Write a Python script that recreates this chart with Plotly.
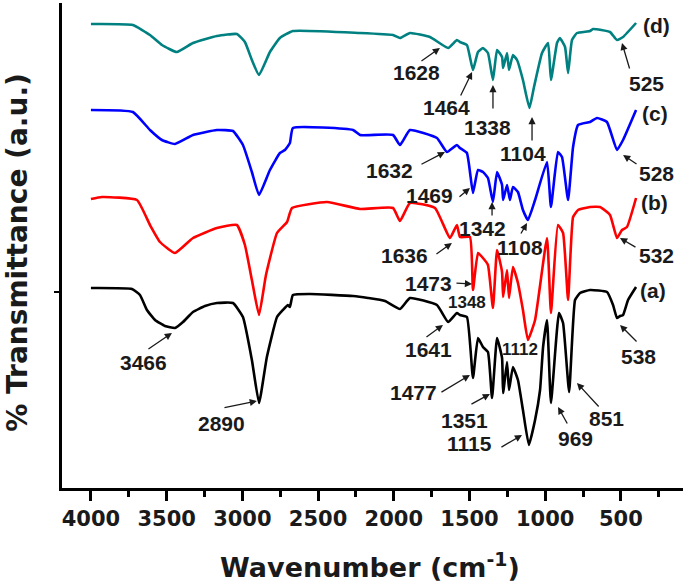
import plotly.graph_objects as go

# ---------------- data (wavenumber in cm-1, transmittance in a.u. with offsets) -------------
wn_a = [4000, 3729, 3676, 3630, 3577, 3511, 3445, 3392, 3326, 3247, 3168, 3062, 2996, 2937, 2890,
        2838, 2771, 2732, 2699, 2686, 2666, 2553, 2269, 2170, 2058, 1959, 1893, 1715, 1641, 1583,
        1563, 1517, 1477, 1444, 1411, 1378, 1351, 1318, 1285, 1278, 1252, 1239, 1213, 1180, 1147,
        1108, 1067, 1034, 1014, 988, 962, 909, 882, 842, 803, 770, 704, 592, 552, 526, 506, 486,
        453, 400]
t_a = [200, 199, 193, 178, 168, 162, 160, 166, 176, 182, 185, 185, 171, 128, 85,
       131, 171, 178, 183, 181, 193, 194, 192, 190, 187, 179, 190, 183, 166, 175,
       173, 171, 110, 150, 141, 136, 90, 150, 130, 95, 126, 98, 121, 108, 78,
       43, 68, 98, 141, 168, 85, 175, 165, 96, 188, 195, 198, 196, 183, 170, 172, 173,
       188, 201]

wn_b = [4000, 3927, 3696, 3610, 3544, 3445, 3326, 3168, 3036, 2983, 2937, 2890, 2844, 2771, 2705,
        2672, 2441, 2223, 2005, 1959, 1893, 1728, 1629, 1583, 1563, 1497, 1477, 1444, 1411, 1378,
        1345, 1318, 1285, 1278, 1252, 1239, 1213, 1180, 1147, 1114, 1067, 988, 962, 916, 882,
        849, 816, 783, 704, 638, 572, 526, 493, 460, 400]
t_b = [289, 291, 288, 263, 246, 235, 250, 260, 263, 243, 208, 173, 213, 255, 266,
       280, 286, 279, 280, 267, 285, 280, 250, 263, 251, 251, 198, 235, 230, 223,
       180, 238, 216, 191, 218, 190, 221, 205, 178, 148, 168, 250, 175, 263, 255,
       188, 271, 278, 281, 281, 273, 250, 258, 261, 290]

wn_c = [4000, 3723, 3610, 3531, 3445, 3326, 3168, 3062, 2996, 2937, 2890, 2818, 2752, 2719, 2686,
        2666, 2269, 2223, 2005, 1959, 1893, 1715, 1649, 1583, 1563, 1517, 1477, 1444, 1411, 1378,
        1345, 1318, 1285, 1278, 1252, 1233, 1213, 1180, 1147, 1114, 1067, 988, 962, 916, 889,
        849, 816, 783, 704, 658, 592, 526, 486, 400]
t_c = [378, 376, 358, 348, 344, 353, 358, 357, 343, 316, 293, 318, 335, 338, 345,
       360, 358, 353, 353, 343, 358, 350, 336, 343, 340, 335, 295, 318, 316, 310,
       286, 316, 303, 288, 303, 288, 301, 296, 278, 268, 288, 326, 281, 336, 331,
       288, 341, 363, 366, 370, 366, 338, 348, 378]

wn_d = [4000, 3723, 3610, 3531, 3432, 3326, 3168, 3036, 2983, 2937, 2890, 2818, 2752, 2666, 2223,
        2005, 1959, 1893, 1761, 1641, 1583, 1563, 1517, 1477, 1444, 1411, 1378, 1345, 1318, 1285,
        1278, 1252, 1239, 1213, 1186, 1147, 1104, 1074, 1021, 981, 962, 922, 903, 869, 849,
        823, 790, 704, 684, 572, 526, 486, 400]
t_d = [464, 463, 453, 443, 436, 445, 452, 454, 446, 428, 413, 436, 450, 457, 455,
       453, 450, 455, 451, 440, 448, 446, 443, 418, 436, 440, 435, 408, 438, 431,
       420, 435, 418, 433, 428, 408, 380, 401, 435, 445, 408, 445, 450, 441, 415,
       448, 455, 457, 459, 456, 448, 451, 465]

series = [("(a)", wn_a, t_a, "#000000"), ("(b)", wn_b, t_b, "#ff0000"),
          ("(c)", wn_c, t_c, "#0000ff"), ("(d)", wn_d, t_d, "#008080")]

x_ticks = [4000, 3500, 3000, 2500, 2000, 1500, 1000, 500]

# peak labels: text, text position (wn, a.u.), arrow tail (wn, a.u.), arrow head (wn, a.u.)
peak_labels = [
    ("3466", (3650, 126), (3630, 138), (3465, 155)),
    ("2890", (3135, 65), (3128, 80), (2904, 87)),
    ("1641", (1774, 139), (1794, 150), (1675, 163)),
    ("1477", (1873, 96), (1695, 95), (1497, 113)),
    ("1351", (1536, 68), (1497, 83), (1365, 94)),
    ("1115", (1497, 45), (1299, 40), (1153, 53)),
    ("969", (803, 50), (849, 63), (915, 81)),
    ("851", (592, 70), (638, 80), (790, 105)),
    ("538", (387, 132), (387, 145), (506, 163)),
    ("1473", (1774, 205), (1596, 205), (1483, 204)),
    ("1636", (1926, 233), (1728, 233), (1616, 245)),
    ("532", (268, 233), (394, 240), (506, 250)),
    ("1632", (2025, 318), (1827, 323), (1662, 336)),
    ("1469", (1761, 293), (1576, 290), (1497, 300)),
    ("1342", (1417, 260), (1351, 271), (1351, 286)),
    ("1108", (1166, 241), (1166, 253), (1120, 265)),
    ("528", (262, 315), (387, 323), (486, 333)),
    ("1628", (1847, 416), (1827, 426), (1695, 440)),
    ("1464", (1649, 381), (1563, 391), (1483, 416)),
    ("1338", (1384, 361), (1345, 378), (1345, 403)),
    ("1104", (1147, 335), (1087, 346), (1087, 371)),
    ("525", (334, 405), (440, 418), (493, 445)),
]
small_labels = [("1112", (1166, 139)), ("1348", (1517, 186))]
series_labels = [("(d)", (262, 463)), ("(c)", (275, 375)), ("(b)", (275, 286)), ("(a)", (288, 198))]

# ---------------- figure ----------------
fig = go.Figure()
for name, wn, t, col in series:
    fig.add_trace(go.Scatter(x=wn, y=t, mode="lines", name=name,
                             line=dict(color=col, width=2.6, shape="spline", smoothing=0.4),
                             showlegend=False))

ann_font = dict(family="Liberation Sans, Arial", size=21, color="#1a1a1a", weight="bold")
annotations = []
for txt, (tx, ty), (ax, ay), (hx, hy) in peak_labels:
    annotations.append(dict(x=hx, y=hy, ax=ax, ay=ay, xref="x", yref="y", axref="x", ayref="y",
                            text="", showarrow=True, arrowhead=2, arrowsize=1.1,
                            arrowwidth=1.3, arrowcolor="#1a1a1a"))
    annotations.append(dict(x=tx, y=ty, xref="x", yref="y", text=txt, showarrow=False,
                            font=ann_font, xanchor="center", yanchor="middle"))
for txt, (tx, ty) in small_labels:
    annotations.append(dict(x=tx, y=ty, xref="x", yref="y", text=txt, showarrow=False,
                            font=dict(family="Liberation Sans, Arial", size=17, color="#1a1a1a",
                                      weight="bold"),
                            xanchor="center", yanchor="middle"))
for txt, (tx, ty) in series_labels:
    annotations.append(dict(x=tx, y=ty, xref="x", yref="y", text=txt, showarrow=False,
                            font=dict(family="Liberation Sans, Arial", size=21, color="#1a1a1a",
                                      weight="bold"),
                            xanchor="center", yanchor="middle"))

annotations.append(dict(xref="paper", yref="paper", x=-0.071, y=0.487, text="% Transmittance (a.u.)",
                        textangle=-90, showarrow=False,
                        font=dict(family="DejaVu Sans", size=28, color="#1a1a1a", weight="bold"),
                        xanchor="center", yanchor="middle"))
annotations.append(dict(xref="paper", yref="paper", x=0.496, y=-0.159,
                        text="Wavenumber (cm<sup>-1</sup>)", showarrow=False,
                        font=dict(family="DejaVu Sans", size=27, color="#1a1a1a", weight="bold"),
                        xanchor="center", yanchor="middle"))

fig.update_layout(
    width=685, height=584,
    margin=dict(l=62, r=2, t=3, b=96),
    paper_bgcolor="white", plot_bgcolor="white",
    annotations=annotations,
    xaxis=dict(range=[4191, 90], showgrid=False, zeroline=False,
               showline=True, linecolor="black", linewidth=2.5,
               tickmode="array", tickvals=x_ticks, ticks="outside", ticklen=10, tickwidth=2.5,
               tickcolor="black",
               tickfont=dict(family="DejaVu Sans", size=21, color="#1a1a1a", weight="bold"),
               minor=dict(dtick=250, tick0=0, ticks="outside", ticklen=6, tickwidth=2.5,
                          tickcolor="black", showgrid=False)),
    yaxis=dict(range=[0, 485], showgrid=False, zeroline=False,
               showline=True, linecolor="black", linewidth=2.5,
               tickmode="array", tickvals=[196], ticks="outside", ticklen=5, tickwidth=2,
               tickcolor="black", showticklabels=False),
)

fig.write_html("out.html", config={"displayModeBar": False},
               post_script="document.body.style.margin='0px';")
